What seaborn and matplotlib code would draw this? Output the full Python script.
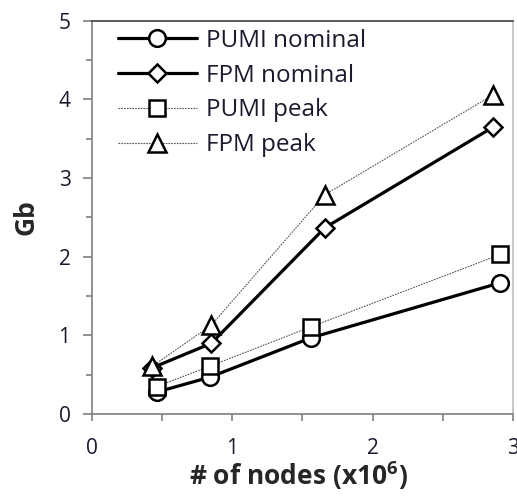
import matplotlib
matplotlib.use("Agg")
import matplotlib.pyplot as plt
from matplotlib.ticker import MultipleLocator
import seaborn as sns
import pandas as pd

# Mesh sizes (millions of nodes) and memory usage (Gb)
pumi_nodes = [0.46, 0.84, 1.56, 2.91]
fpm_nodes = [0.43, 0.85, 1.66, 2.86]
pumi_nominal = [0.28, 0.47, 0.97, 1.67]
fpm_nominal = [0.59, 0.90, 2.37, 3.65]
pumi_peak = [0.35, 0.61, 1.11, 2.03]
fpm_peak = [0.61, 1.13, 2.79, 4.06]

series_names = ["PUMI nominal", "FPM nominal", "PUMI peak", "FPM peak"]

sns.set_style("white")
plt.rcParams["font.family"] = ["Open Sans", "DejaVu Sans"]
plt.rcParams["mathtext.default"] = "regular"

fig = plt.figure(figsize=(5.17, 4.96), dpi=100)
ax = fig.add_axes([0.178, 0.165, 0.814, 0.793])

series = [
    (series_names[0], pumi_nodes, pumi_nominal, "o", 12, "solid", 2.3, "black"),
    (series_names[1], fpm_nodes, fpm_nominal, "D", 9.5, "solid", 2.3, "black"),
    (series_names[2], pumi_nodes, pumi_peak, "s", 12, (0, (1.5, 1)), 0.8, "#555555"),
    (series_names[3], fpm_nodes, fpm_peak, "^", 13, (0, (1.5, 1)), 0.8, "#555555"),
]

for name, xs, ys, mk, ms, ls, lw, col in series:
    df = pd.DataFrame({"nodes": xs, "gb": ys})
    sns.lineplot(data=df, x="nodes", y="gb", ax=ax, label=name,
                 color=col, linestyle=ls, linewidth=lw,
                 marker=mk, markersize=ms, markerfacecolor="white",
                 markeredgecolor="black", markeredgewidth=1.8)

ax.set_xlim(0, 3)
ax.set_ylim(0, 5)
ax.xaxis.set_major_locator(MultipleLocator(1))
ax.xaxis.set_minor_locator(MultipleLocator(0.5))
ax.yaxis.set_major_locator(MultipleLocator(1))
ax.yaxis.set_minor_locator(MultipleLocator(0.5))

spine_col = "#7f7f7f"
for s in ax.spines.values():
    s.set_color(spine_col)
    s.set_linewidth(1.2)
ax.spines["top"].set_color("#404040")
ax.spines["right"].set_color("#bfbfbf")

ax.tick_params(axis="both", which="both", direction="out", color=spine_col,
               width=1.2, labelsize=15, labelcolor="#1a1a2e")
ax.tick_params(axis="x", which="major", length=5, pad=12)
ax.tick_params(axis="x", which="minor", length=5)
ax.tick_params(axis="y", which="major", length=6.5, pad=9)
ax.tick_params(axis="y", which="minor", length=4.5)
ax.tick_params(bottom=True, left=True, which="both")

ax.set_xlabel("# of nodes (x10$^{6}$)", fontsize=19, fontweight="bold", labelpad=0)
ax.xaxis.set_label_coords(0.49, -0.115)
ax.set_ylabel("Gb", fontsize=19, fontweight="bold", labelpad=14)

leg = ax.legend(loc="upper left", frameon=False, fontsize=17.5,
                handlelength=3.25, handletextpad=0.4, labelspacing=0.45,
                borderaxespad=0.0, bbox_to_anchor=(0.038, 1.005))
for t in leg.get_texts():
    t.set_color("#1a1a2e")

fig.savefig("out.png", dpi=100)
